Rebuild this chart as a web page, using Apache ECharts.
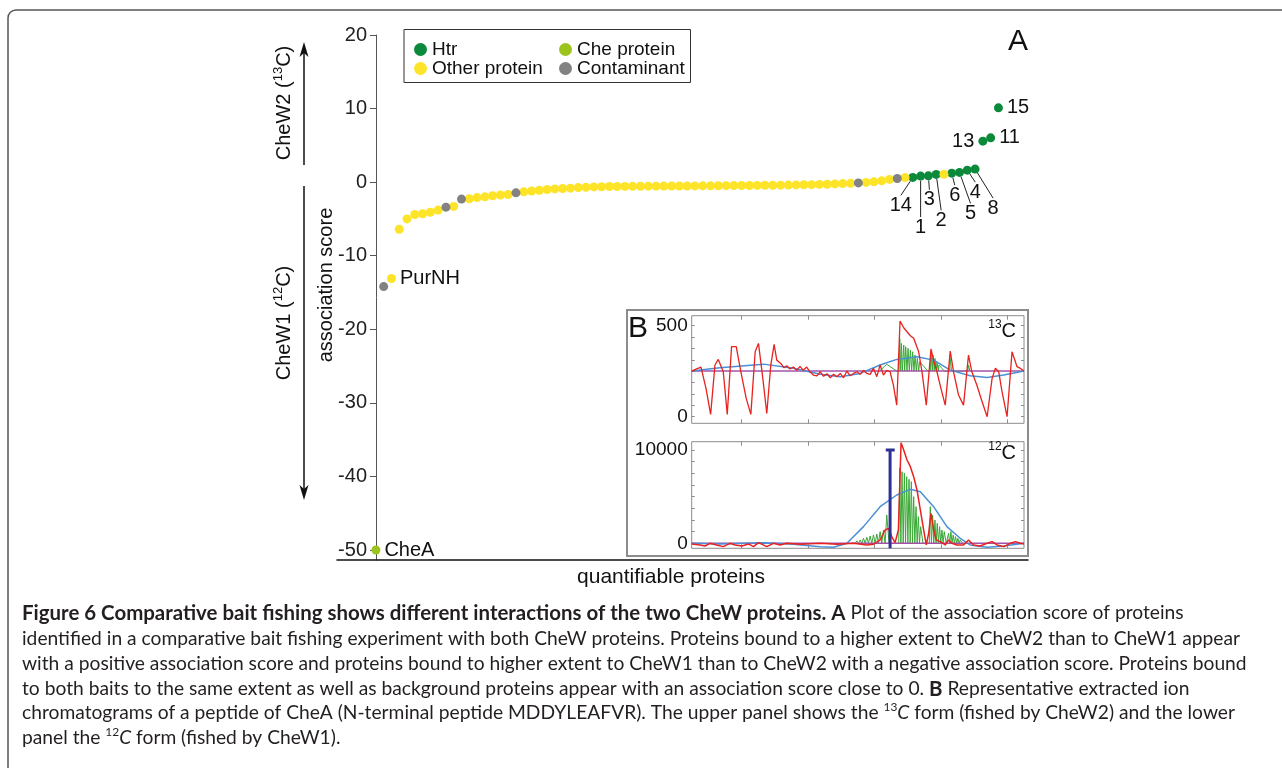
<!DOCTYPE html>
<html>
<head>
<meta charset="utf-8">
<script src="https://cdn.jsdelivr.net/npm/echarts@6/dist/echarts.min.js"></script>
<style>
html, body { margin: 0; padding: 0; background: #fff; }
#chart { width: 1282px; height: 768px; }
</style>
</head>
<body>
<div id="chart"></div>
<script>
// ---- A: association score of each quantifiable protein (sorted) ----
var scores = [
  -50, -14.2, -13.1, -6.4, -5.0, -4.4, -4.3, -4.1, -3.8, -3.4,
  -3.3, -2.3, -2.25, -2.1, -2.0, -1.85, -1.75, -1.68, -1.45, -1.32,
  -1.2, -1.1, -1.0, -0.92, -0.86, -0.82, -0.74, -0.7, -0.65, -0.62,
  -0.6, -0.6, -0.58, -0.57, -0.56, -0.55, -0.55, -0.54, -0.53, -0.52,
  -0.52, -0.51, -0.5, -0.5, -0.49, -0.48, -0.47, -0.46, -0.45, -0.44,
  -0.43, -0.42, -0.41, -0.4, -0.38, -0.36, -0.34, -0.31, -0.28, -0.24,
  -0.2, -0.16, -0.1, -0.04, 0.04, 0.18, 0.37, 0.5, 0.62, 0.64,
  0.82, 0.86, 1.05, 1.06, 1.22, 1.32, 1.63, 1.77, 5.57, 6.02,
  10.1
];
// H = Htr, O = other protein, C = Che protein, X = contaminant
var kinds = ('C X O O O O O O O X ' +
             'O X O O O O O O X O ' +
             'O O O O O O O O O O ' +
             'O O O O O O O O O O ' +
             'O O O O O O O O O O ' +
             'O O O O O O O O O O ' +
             'O O X O O O O X O H ' +
             'H H H O H H H H H H ' +
             'H').split(' ');
var pointNames = {0: 'CheA', 2: 'PurNH', 69: '14', 70: '1', 71: '3', 72: '2',
                  74: '6', 75: '5', 76: '4', 77: '8', 78: '13', 79: '11', 80: '15'};
var kindNames = {H: 'Htr', O: 'Other protein', C: 'Che protein', X: 'Contaminant'};
var scoreTicks = [-50, -40, -30, -20, -10, 0, 10, 20];

// ---- B: extracted ion chromatograms [scan, intensity] ----
var c13Red = [[0,251],[1.3,262],[2.8,273],[4.3,156],[5.7,13],[7.0,284],[8.0,315],[9.5,247],[10.7,13],[12.0,385],
  [13.4,385],[14.8,247],[16.4,101],[17.8,13],[19.1,357],[20.1,403],[21.4,211],[22.6,18],[23.8,284],[24.8,398],
  [25.6,311],[26.8,293],[27.8,269],[28.6,280],[29.6,262],[30.6,273],[31.6,255],[32.6,277],[33.6,255],[34.6,273],
  [35.6,247],[36.6,229],[37.7,224],[38.7,247],[39.7,222],[40.7,236],[41.7,214],[42.7,233],[43.7,220],[44.7,238],
  [45.7,214],[46.7,251],[47.7,225],[48.7,238],[49.7,247],[50.7,233],[51.7,255],[52.7,238],[53.7,233],[54.7,266],
  [55.7,220],[56.7,284],[57.7,229],[58.7,255],[59.7,247],[60.7,174],[61.7,64],[62.7,526],[63.8,489],[64.8,467],
  [65.8,445],[66.8,431],[68.3,357],[69.3,247],[70.6,64],[72.0,372],[72.8,311],[73.8,247],[75.0,156],[76.3,64],
  [77.8,361],[78.8,247],[80.3,119],[81.8,64],[83.3,339],[84.3,247],[85.8,174],[87.4,82],[88.9,0],[90.4,211],
  [91.4,266],[92.4,247],[93.4,137],[94.9,0],[96.4,357],[96.9,361],[97.9,275],[98.9,266],[100,251]];
var c13Green = [[56.5,251],[58.7,288],[61.7,251],[62.4,251],[62.6,431],[62.9,251],[63.1,403],[63.4,251],
  [63.8,394],[64.1,251],[64.4,385],[64.8,251],[65.1,376],[65.5,251],[65.8,366],[66.2,251],[66.5,357],[66.9,251],
  [67.2,339],[67.6,251],[67.9,321],[68.3,251],[68.6,302],[71.1,251],[71.8,251],[72.0,357],[72.4,251],[72.6,339],
  [73.0,251],[73.2,321],[73.6,251],[73.8,302],[74.2,251],[74.4,284],[76.0,251],[77.6,251],[77.8,321],[78.2,251],
  [79.5,251],[83.1,251],[83.3,284],[83.7,251]];
var c13Blue = [[0,251],[8.5,269],[21.6,289],[30.6,266],[38.7,233],[44.7,220],[50.7,238],[56.7,284],[61.7,315],
  [67.8,330],[72.8,311],[77.8,256],[83.8,225],[88.9,216],[93.9,229],[100,251]];
var c13Base = [[0,251],[100,251]];

var c12Red = [[0,-71],[2.5,-179],[4.0,-286],[5.5,0],[7.5,-179],[9.5,-357],[11.5,0],[13.1,-179],[15.1,-286],
  [17.1,-71],[18.6,-357],[20.1,71],[22.6,-357],[24.6,0],[26.6,-179],[28.6,0],[32.6,-107],[38.7,0],[43.7,-107],
  [48.7,0],[52.7,-179],[54.7,-107],[56.7,357],[58.2,1428],[59.2,1607],[60.2,714],[61.2,71],[62.2,1428],
  [63.0,10784],[63.8,9999],[64.8,8928],[65.8,8213],[66.8,7142],[67.8,5714],[68.8,3571],[69.8,1428],[70.6,-179],
  [71.3,1071],[72.0,3214],[72.8,1428],[73.6,357],[74.8,179],[76.3,-179],[77.3,357],[78.3,0],[79.8,-179],
  [81.8,-179],[83.3,357],[84.8,-179],[86.8,-286],[88.9,0],[90.4,179],[91.9,-179],[93.9,-357],[95.9,0],
  [97.4,179],[98.9,0],[100,-71]];
var c12Green = [[48.3,0],[48.7,179],[49.2,0],[49.7,250],[50.2,0],[50.7,357],[51.2,0],[51.7,536],[52.2,0],
  [52.7,643],[53.2,0],[53.7,786],[54.2,0],[54.7,893],[55.2,0],[55.7,1000],[56.2,0],[56.7,1250],[57.2,0],
  [57.7,1428],[58.2,0],[58.7,3035],[59.4,0],[62.3,0],[62.6,8035],[62.95,0],[63.3,7678],[63.65,0],[64.0,7499],
  [64.35,0],[64.7,7142],[65.05,0],[65.4,6856],[65.75,0],[66.1,6606],[66.45,0],[66.8,5000],[67.15,0],[67.5,3928],
  [67.85,0],[68.2,2857],[68.55,0],[68.9,1786],[69.6,0],[71.5,0],[71.8,3928],[72.15,0],[72.5,3035],[72.85,0],
  [73.2,2500],[73.55,0],[73.9,2143],[74.25,0],[74.6,1786],[74.95,0],[75.3,1428],[75.65,0],[76.0,1250],[76.6,0],
  [77.0,0],[77.3,1071],[77.65,0],[78.0,1250],[78.35,0],[78.7,893],[79.05,0],[79.4,714],[79.75,0],[80.1,536],
  [80.45,0],[80.8,357],[81.5,0]];
var c12Blue = [[0,0],[8.5,-71],[21.6,71],[30.6,-107],[38.7,-357],[42.7,-428],[46.7,0],[51.7,1786],[56.7,3928],
  [61.7,5178],[65.8,5785],[68.8,5535],[72.8,3928],[76.8,1786],[80.8,536],[83.8,-179],[88.9,-428],[93.9,-286],[100,0]];
var c12Base = [[0,0],[100,0]];
var c12Marker = [[59.7,10000],[59.7,-530]];
var c12MarkerCap = [[58.4,10000],[61.1,10000]];

var scanTicks = [15, 35, 55, 75, 95];
var c13Ticks = [0, 62.5, 125, 187.5, 250, 312.5, 375, 437.5, 500];
var c13Labels = [0, 500];
var c12Ticks = [0, 1250, 2500, 3750, 5000, 6250, 7500, 8750, 10000];
var c12Labels = [0, 10000];

var captionTitle = 'Figure 6 Comparative bait fishing shows different interactions of the two CheW proteins. A';
var captionLines = [
  '{b|' + captionTitle + '} Plot of the association score of proteins',
  'identified in a comparative bait fishing experiment with both CheW proteins. Proteins bound to a higher extent to CheW2 than to CheW1 appear',
  'with a positive association score and proteins bound to higher extent to CheW1 than to CheW2 with a negative association score. Proteins bound',
  'to both baits to the same extent as well as background proteins appear with an association score close to 0. {b|B} Representative extracted ion',
  'chromatograms of a peptide of CheA (N-terminal peptide MDDYLEAFVR). The upper panel shows the {sup|13}{i|C} form (fished by CheW2) and the lower',
  'panel the {sup|12}{i|C} form (fished by CheW1).'
];

// ---------------------------------------------------------------
var FONT = '"Liberation Sans", Arial, sans-serif';
var CAPFONT = 'Lato, "Open Sans", sans-serif';
var colors = {H: '#0b8a3b', O: '#fde428', C: '#9cc41c', X: '#828282'};
// label offsets of the numbered Htr points (px from the dot)
var leaderOffsets = {'14': [-12, 28], '1': [0, 51], '3': [1, 24], '2': [5, 46],
                     '6': [3, 22], '5': [11, 41], '4': [8, 22], '8': [18, 39]};
var sidePos = {CheA: 'right', PurNH: 'right', '13': 'left', '11': 'right', '15': 'right'};

// caption sizes fitted to the widths seen in the figure
var ctx = document.createElement('canvas').getContext('2d');
ctx.font = '100px Lato';
var capSize = 100 * 1219 / ctx.measureText(captionLines[1]).width;
ctx.font = 'bold 100px Lato';
var capBoldSize = Math.min(capSize * 1.1, 100 * 824 / ctx.measureText(captionTitle).width);

var chart = echarts.init(document.getElementById('chart'));

var scatterSeries = ['H', 'O', 'C', 'X'].map(function (k) {
  var data = [];
  scores.forEach(function (v, i) {
    if (kinds[i] !== k) return;
    var item = {value: [i, v]};
    var nm = pointNames[i];
    if (nm) {
      item.label = {show: true, formatter: nm, position: sidePos[nm] || 'inside',
        distance: 4, color: '#111', fontSize: 20, fontFamily: FONT};
      if (leaderOffsets[nm]) {
        item.labelLine = {show: true, lineStyle: {color: '#222', width: 1}};
      }
    }
    data.push(item);
  });
  return {
    name: kindNames[k], type: 'scatter', xAxisIndex: 0, yAxisIndex: 0, clip: false,
    symbolSize: 9, itemStyle: {color: colors[k], opacity: 1},
    data: data,
    labelLayout: function (p) {
      var o = leaderOffsets[p.text];
      return o ? {dx: o[0], dy: o[1]} : {};
    }
  };
});

function plainNum(v) { return String(v); }
function insetX(g, pos) {
  return {gridIndex: g, type: 'value', position: pos, min: 0, max: 100,
    axisLine: {show: false, onZero: false},
    axisTick: {show: true, inside: true, length: 4, customValues: scanTicks, lineStyle: {color: '#8c8c8c'}},
    axisLabel: {show: false}, splitLine: {show: false}};
}
function insetY(g, pos, min, max, ticks, labels) {
  return {gridIndex: g, type: 'value', position: pos, min: min, max: max,
    axisLine: {show: false, onZero: false},
    axisTick: {show: true, inside: true, length: 3, customValues: ticks, lineStyle: {color: '#8c8c8c'}},
    axisLabel: labels ? {show: true, customValues: labels, formatter: plainNum, fontSize: 19, color: '#111', margin: 4, fontFamily: FONT} : {show: false},
    splitLine: {show: false}};
}
function xic(data, xi, color, width) {
  return {type: 'line', xAxisIndex: xi, yAxisIndex: xi, data: data, symbol: 'none',
    lineStyle: {color: color, width: width}, silent: true};
}

function rotText(x, y, text) {
  return {type: 'text', x: x, y: y, rotation: Math.PI / 2,
    style: {text: text, fontSize: 20, fontFamily: FONT, fill: '#111', align: 'center', verticalAlign: 'middle',
      lineHeight: 26, rich: {sup: {fontSize: 13, fontFamily: FONT, verticalAlign: 'top', lineHeight: 14}}}};
}

var graphics = [
  {type: 'rect', shape: {x: 8, y: 10, width: 1300, height: 800, r: 8},
    style: {fill: 'none', stroke: '#555', lineWidth: 1.5}},
  {type: 'rect', shape: {x: 404, y: 29.5, width: 286.5, height: 53},
    style: {fill: 'none', stroke: '#333', lineWidth: 1}},
  {type: 'text', x: 1018, y: 42, style: {text: 'A', fontSize: 30, fontFamily: FONT, fill: '#111', align: 'center', verticalAlign: 'middle'}},
  rotText(284.5, 103, 'CheW2 ({sup|13}C)'),
  rotText(284.5, 323, 'CheW1 ({sup|12}C)'),
  {type: 'text', x: 326, y: 285, rotation: Math.PI / 2,
    style: {text: 'association score', fontSize: 20, fontFamily: FONT, fill: '#111', align: 'center', verticalAlign: 'middle'}},
  {type: 'line', shape: {x1: 304, y1: 165, x2: 304, y2: 50}, style: {stroke: '#111', lineWidth: 1.5}},
  {type: 'polygon', shape: {points: [[304, 42], [299.5, 57], [304, 53], [308.5, 57]]}, style: {fill: '#111'}},
  {type: 'line', shape: {x1: 304, y1: 186, x2: 304, y2: 492}, style: {stroke: '#111', lineWidth: 1.5}},
  {type: 'polygon', shape: {points: [[304, 500], [299.5, 485], [304, 489], [308.5, 485]]}, style: {fill: '#111'}},
  {type: 'text', x: 671, y: 577, style: {text: 'quantifiable proteins', fontSize: 21, fontFamily: FONT, fill: '#111', align: 'center', verticalAlign: 'middle'}},
  {type: 'rect', shape: {x: 627, y: 310, width: 401, height: 246},
    style: {fill: 'none', stroke: '#8c8c8c', lineWidth: 2}},
  {type: 'text', x: 638, y: 329, style: {text: 'B', fontSize: 30, fontFamily: FONT, fill: '#111', align: 'center', verticalAlign: 'middle'}},
  {type: 'text', x: 1016, y: 331, style: {text: '{sup|13}C', fontSize: 20, fontFamily: FONT, fill: '#111', align: 'right', verticalAlign: 'middle',
    lineHeight: 24, rich: {sup: {fontSize: 12, fontFamily: FONT, verticalAlign: 'top', lineHeight: 13}}}},
  {type: 'text', x: 1016, y: 453, style: {text: '{sup|12}C', fontSize: 20, fontFamily: FONT, fill: '#111', align: 'right', verticalAlign: 'middle',
    lineHeight: 24, rich: {sup: {fontSize: 12, fontFamily: FONT, verticalAlign: 'top', lineHeight: 13}}}}
];
var capY = [613, 639, 664, 689, 713, 738];
captionLines.forEach(function (t, i) {
  graphics.push({type: 'text', x: 22, y: capY[i], style: {
    text: t, fontSize: capSize, fontFamily: CAPFONT, fill: '#231f20', align: 'left', verticalAlign: 'middle', lineHeight: 24,
    rich: {
      b: {fontSize: capBoldSize, fontFamily: CAPFONT, fontWeight: 'bold', fill: '#231f20'},
      i: {fontSize: capSize, fontFamily: CAPFONT, fontStyle: 'italic', fill: '#231f20'},
      sup: {fontSize: capSize * 0.62, fontFamily: CAPFONT, fill: '#231f20', verticalAlign: 'top', lineHeight: 12}
    }}});
});

var legendBase = {orient: 'vertical', top: 35, itemWidth: 13, itemHeight: 13, itemGap: 0, icon: 'circle',
  textStyle: {fontSize: 19, fontFamily: FONT, color: '#111'}, selectedMode: false};

chart.setOption({
  animation: false,
  textStyle: {fontFamily: FONT},
  legend: [
    Object.assign({}, legendBase, {left: 409, data: ['Htr', 'Other protein']}),
    Object.assign({}, legendBase, {left: 554, data: ['Che protein', 'Contaminant']})
  ],
  grid: [
    {left: 337, top: 35, width: 691, height: 525},
    {left: 691.7, top: 315.7, width: 332.3, height: 107.6, show: true, borderColor: '#8c8c8c', borderWidth: 1},
    {left: 691.7, top: 441.7, width: 332.3, height: 106.6, show: true, borderColor: '#8c8c8c', borderWidth: 1}
  ],
  xAxis: [
    {gridIndex: 0, type: 'value', min: -5, max: 83.8,
      axisLine: {show: true, onZero: false, lineStyle: {color: '#111', width: 1.5}},
      axisTick: {show: false}, axisLabel: {show: false}, splitLine: {show: false}},
    insetX(1, 'bottom'), insetX(1, 'top'), insetX(2, 'bottom'), insetX(2, 'top')
  ],
  yAxis: [
    {gridIndex: 0, type: 'value', min: -51.36, max: 20, offset: -39,
      axisLine: {show: true, onZero: false, lineStyle: {color: '#555', width: 1}},
      axisTick: {show: true, inside: false, length: 6, customValues: scoreTicks, lineStyle: {color: '#555'}},
      axisLabel: {customValues: scoreTicks, fontSize: 20, color: '#222', margin: 9, fontFamily: FONT},
      splitLine: {show: false}},
    insetY(1, 'left', -36, 555, c13Ticks, c13Labels),
    insetY(1, 'right', -36, 555, c13Ticks, null),
    insetY(2, 'left', -536, 10890, c12Ticks, c12Labels),
    insetY(2, 'right', -536, 10890, c12Ticks, null)
  ],
  graphic: {elements: graphics},
  series: scatterSeries.concat([
    xic(c13Green, 1, '#3aa835', 1),
    xic(c13Base, 1, '#a352a8', 1.5),
    xic(c13Blue, 1, '#4a90d6', 1.5),
    xic(c13Red, 1, '#e8221e', 1.3),
    xic(c12Green, 3, '#3aa835', 1),
    xic(c12Base, 3, '#a352a8', 1.5),
    xic(c12Blue, 3, '#4a90d6', 1.5),
    xic(c12Red, 3, '#e8221e', 1.5),
    xic(c12Marker, 3, '#2e3192', 3),
    xic(c12MarkerCap, 3, '#2e3192', 3)
  ])
});
</script>
</body>
</html>
